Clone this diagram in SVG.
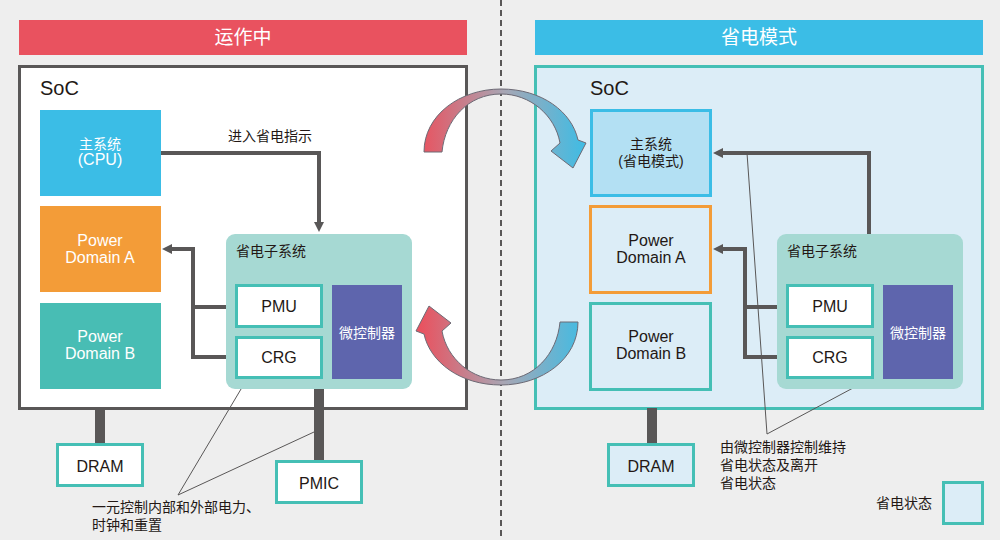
<svg xmlns="http://www.w3.org/2000/svg" width="1000" height="540" viewBox="0 0 1000 540">
<defs>
<style>
text{font-family:"Liberation Sans","Noto Sans CJK SC",sans-serif;fill:#231815}
.w{fill:#fff}
.c{text-anchor:middle}
.cj{font-family:"Noto Sans CJK SC","Liberation Sans",sans-serif}
.t14{font-size:14px}
.t16{font-size:16px}
.conn{fill:none;stroke:#595757;stroke-width:4}
.bar{fill:#595757}
.note{fill:none;stroke:#595757;stroke-width:1}
.teal{stroke:#45bfb5;stroke-width:3}
</style>
<marker id="ah" markerWidth="10" markerHeight="10" refX="1" refY="5" orient="auto" markerUnits="userSpaceOnUse" viewBox="0 0 10 10">
<path d="M0,5 L10,0 L10,10 Z" fill="#595757" transform="rotate(180 5 5)"/>
</marker>
<linearGradient id="g" gradientUnits="userSpaceOnUse" x1="420" y1="0" x2="588" y2="0">
<stop offset="0" stop-color="#e9525f"/>
<stop offset="0.5" stop-color="#a8a6b4"/>
<stop offset="1" stop-color="#3bbde6"/>
</linearGradient>
</defs>
<rect width="1000" height="540" fill="#eeeeee"/>

<g id="divider"><line x1="501" y1="0" x2="501" y2="540" stroke="#595757" stroke-width="2" stroke-dasharray="6,4"/></g>

<g id="header-left"><rect x="19" y="20" width="448" height="35" fill="#e9525f"/><text class="w c cj" x="243" y="44" font-size="19">运作中</text></g>
<g id="header-right"><rect x="535" y="20" width="448" height="35" fill="#3bbde6"/><text class="w c cj" x="759" y="44" font-size="19">省电模式</text></g>

<g id="soc-left"><rect x="19.5" y="66.5" width="447" height="342" fill="#fff" stroke="#595757" stroke-width="3"/><text x="40" y="95" font-size="20">SoC</text></g>
<g id="soc-right"><rect x="535.5" y="66.5" width="447" height="342" fill="#dcedf7" class="teal"/><text x="590" y="95" font-size="20">SoC</text></g>

<g id="connectors">
<path class="conn" d="M161,153 H319 V223" marker-end="url(#ah)"/>
<path class="conn" d="M235,307 H193 V249 H171" marker-end="url(#ah)"/>
<path class="conn" d="M235,357 H193 V307"/>
<path class="conn" d="M869,234 V153 H722" marker-end="url(#ah)"/>
<path class="conn" d="M786,307 H745 V249 H722" marker-end="url(#ah)"/>
<path class="conn" d="M786,357 H745 V307"/>
<rect class="bar" x="95" y="408" width="10" height="35"/>
<rect class="bar" x="314" y="388" width="10" height="72"/>
<rect class="bar" x="647" y="408" width="10" height="35"/>
<path class="note" d="M247,379 L178,495 L314,432"/>
<path class="note" d="M747,153 L767,434 L853,388"/>
</g>

<g id="cpu-left"><rect x="40" y="110" width="121" height="86" fill="#3bbde6"/><text class="w c t14" x="100" y="149">主系统</text><text class="w c t16" x="100" y="165">(CPU)</text></g>
<g id="pda-left"><rect x="40" y="206" width="121" height="86" fill="#f39c38"/><text class="w c t16" x="100" y="246">Power</text><text class="w c t16" x="100" y="263">Domain A</text></g>
<g id="pdb-left"><rect x="40" y="303" width="121" height="86" fill="#48bdb4"/><text class="w c t16" x="100" y="342">Power</text><text class="w c t16" x="100" y="359">Domain B</text></g>

<g id="subsys-left"><rect x="226" y="234" width="186" height="155" rx="9" fill="#a6d9d3"/><text class="t14" x="236" y="256">省电子系统</text>
<rect x="236.5" y="285.5" width="85" height="41" fill="#fff" class="teal"/><text class="c t16" x="279" y="312">PMU</text>
<rect x="236.5" y="337.5" width="85" height="40" fill="#fff" class="teal"/><text class="c t16" x="279" y="363">CRG</text>
<rect x="332" y="285" width="70" height="94" fill="#5e65ad"/><text class="w c t14" x="367" y="338">微控制器</text></g>
<g id="label-enter"><text class="c t14" x="270" y="141">进入省电指示</text></g>

<g id="main-right"><rect x="591.5" y="110.5" width="119" height="85" fill="#b3e0f3" stroke="#3bbde6" stroke-width="3"/><text class="c t14" x="651" y="149">主系统</text><text class="c t14" x="651" y="166">(省电模式)</text></g>
<g id="pda-right"><rect x="590.5" y="206.5" width="120" height="86" fill="#dcedf7" stroke="#f39c38" stroke-width="3"/><text class="c t16" x="651" y="246">Power</text><text class="c t16" x="651" y="263">Domain A</text></g>
<g id="pdb-right"><rect x="590.5" y="303.5" width="120" height="86" fill="#dcedf7" class="teal"/><text class="c t16" x="651" y="342">Power</text><text class="c t16" x="651" y="359">Domain B</text></g>

<g id="subsys-right"><rect x="777" y="234" width="186" height="155" rx="9" fill="#a6d9d3"/><text class="t14" x="787" y="256">省电子系统</text>
<rect x="787.5" y="285.5" width="85" height="41" fill="#fff" class="teal"/><text class="c t16" x="830" y="312">PMU</text>
<rect x="787.5" y="337.5" width="85" height="40" fill="#fff" class="teal"/><text class="c t16" x="830" y="363">CRG</text>
<rect x="883" y="285" width="70" height="94" fill="#5e65ad"/><text class="w c t14" x="918" y="338">微控制器</text></g>

<g id="dram-left"><rect x="57.5" y="444.5" width="85" height="41" fill="#fff" class="teal"/><text class="c t16" x="100" y="472">DRAM</text></g>
<g id="pmic"><rect x="276.5" y="461.5" width="85" height="41" fill="#fff" class="teal"/><text class="c t16" x="319" y="489">PMIC</text></g>
<g id="dram-right"><rect x="608.5" y="444.5" width="85" height="41" fill="#dcedf7" class="teal"/><text class="c t16" x="651" y="472">DRAM</text></g>

<g id="note-left"><text class="t14" x="92" y="512">一元控制内部和外部电力、</text><text class="t14" x="92" y="530">时钟和重置</text></g>
<g id="note-right"><text class="t14" x="720" y="452">由微控制器控制维持</text><text class="t14" x="720" y="470">省电状态及离开</text><text class="t14" x="720" y="488">省电状态</text></g>

<g id="legend"><text class="t14" x="876" y="508">省电状态</text><rect x="943.5" y="482.5" width="39" height="41" fill="#dcedf7" class="teal"/></g>

<g id="transition-arrows">
<path d="M424,152 C424,115 460,89 501,89 C542,89 572,112 578,140 L586,143 L573,168 L551,151 L560,143 C555,115 530,94 501,94 C468,94 445,120 442,152 Z" fill="url(#g)" stroke="#6d6a75" stroke-width="1"/>
<path d="M578,322 C578,359 542,385 501,385 C460,385 430,362 424,334 L416,331 L429,306 L451,323 L442,331 C447,359 472,380 501,380 C534,380 557,354 560,322 Z" fill="url(#g)" stroke="#6d6a75" stroke-width="1"/>
</g>
</svg>
